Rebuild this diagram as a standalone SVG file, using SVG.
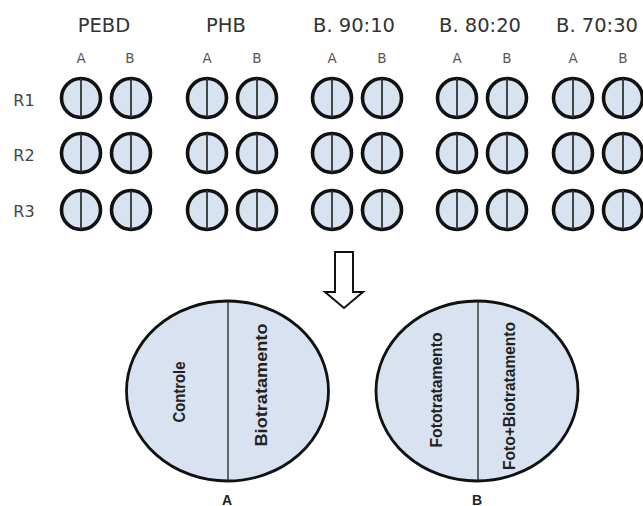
<svg xmlns="http://www.w3.org/2000/svg" xmlns:xlink="http://www.w3.org/1999/xlink" width="643" height="506" viewBox="0 0 643 506">
<style>
.hdr{font-family:"DejaVu Sans","Liberation Sans",sans-serif;font-size:19.5px;fill:#333;text-anchor:middle}
.ab{font-family:"DejaVu Sans","Liberation Sans",sans-serif;font-size:13.5px;fill:#555;text-anchor:middle}
.row{font-family:"DejaVu Sans","Liberation Sans",sans-serif;font-size:16px;fill:#444;text-anchor:middle}
.rot{font-family:"Liberation Sans",Arial,sans-serif;font-size:17px;font-weight:bold;fill:#222;text-anchor:middle}
.lbl{font-family:"Liberation Sans",Arial,sans-serif;font-size:14px;font-weight:bold;fill:#222;text-anchor:middle}
.big{fill:#d8e2f1;stroke:#111;stroke-width:2.8}
.div{stroke:#222;stroke-width:1.3}
</style>
<defs>
<g id="well">
<circle cx="0" cy="0" r="19.5" fill="#d8e3f2" stroke="#111" stroke-width="3.6"/>
<line x1="0" y1="-19.5" x2="0" y2="19.5" stroke="#333" stroke-width="1.8"/>
</g>
</defs>
<rect width="643" height="506" fill="#ffffff"/>
<g id="headers">
<text class="hdr" x="104" y="32">PEBD</text>
<text class="hdr" x="226" y="32">PHB</text>
<text class="hdr" x="354" y="32">B. 90:10</text>
<text class="hdr" x="480" y="32">B. 80:20</text>
<text class="hdr" x="597" y="32">B. 70:30</text>
</g>
<g id="ab-labels">
<text class="ab" x="81" y="63">A</text><text class="ab" x="130" y="63">B</text>
<text class="ab" x="207" y="63">A</text><text class="ab" x="257" y="63">B</text>
<text class="ab" x="332" y="63">A</text><text class="ab" x="382" y="63">B</text>
<text class="ab" x="457" y="63">A</text><text class="ab" x="507" y="63">B</text>
<text class="ab" x="573" y="63">A</text><text class="ab" x="623" y="63">B</text>
</g>
<g id="row-labels">
<text class="row" x="24" y="106">R1</text>
<text class="row" x="24" y="161">R2</text>
<text class="row" x="24" y="217">R3</text>
</g>
<g id="wells">
<use xlink:href="#well" x="81" y="98"/><use xlink:href="#well" x="131" y="98"/>
<use xlink:href="#well" x="207" y="98"/><use xlink:href="#well" x="257" y="98"/>
<use xlink:href="#well" x="332" y="98"/><use xlink:href="#well" x="382" y="98"/>
<use xlink:href="#well" x="457" y="98"/><use xlink:href="#well" x="507" y="98"/>
<use xlink:href="#well" x="573" y="98"/><use xlink:href="#well" x="623" y="98"/>
<use xlink:href="#well" x="81" y="153"/><use xlink:href="#well" x="131" y="153"/>
<use xlink:href="#well" x="207" y="153"/><use xlink:href="#well" x="257" y="153"/>
<use xlink:href="#well" x="332" y="153"/><use xlink:href="#well" x="382" y="153"/>
<use xlink:href="#well" x="457" y="153"/><use xlink:href="#well" x="507" y="153"/>
<use xlink:href="#well" x="573" y="153"/><use xlink:href="#well" x="623" y="153"/>
<use xlink:href="#well" x="81" y="210"/><use xlink:href="#well" x="131" y="210"/>
<use xlink:href="#well" x="207" y="210"/><use xlink:href="#well" x="257" y="210"/>
<use xlink:href="#well" x="332" y="210"/><use xlink:href="#well" x="382" y="210"/>
<use xlink:href="#well" x="457" y="210"/><use xlink:href="#well" x="507" y="210"/>
<use xlink:href="#well" x="573" y="210"/><use xlink:href="#well" x="623" y="210"/>
</g>
<g id="connectors">
<polygon points="335,252 353,252 353,292 363,292 344,308 325,292 335,292" fill="#fff" stroke="#111" stroke-width="2" stroke-linejoin="miter"/>
</g>
<g id="plate-A">
<ellipse class="big" cx="227.5" cy="391" rx="101" ry="90"/>
<line class="div" x1="228" y1="301" x2="228" y2="481"/>
<text class="rot" transform="translate(185,392) rotate(-90)" textLength="61" lengthAdjust="spacingAndGlyphs">Controle</text>
<text class="rot" transform="translate(267,385) rotate(-90)" textLength="123" lengthAdjust="spacingAndGlyphs">Biotratamento</text>
<text class="lbl" x="227" y="505">A</text>
</g>
<g id="plate-B">
<ellipse class="big" cx="477" cy="391" rx="101" ry="90"/>
<line class="div" x1="478" y1="301" x2="478" y2="481"/>
<text class="rot" transform="translate(442,390) rotate(-90)" textLength="115" lengthAdjust="spacingAndGlyphs">Fototratamento</text>
<text class="rot" transform="translate(515,396) rotate(-90)" textLength="148" lengthAdjust="spacingAndGlyphs">Foto+Biotratamento</text>
<text class="lbl" x="477" y="505">B</text>
</g>
</svg>
